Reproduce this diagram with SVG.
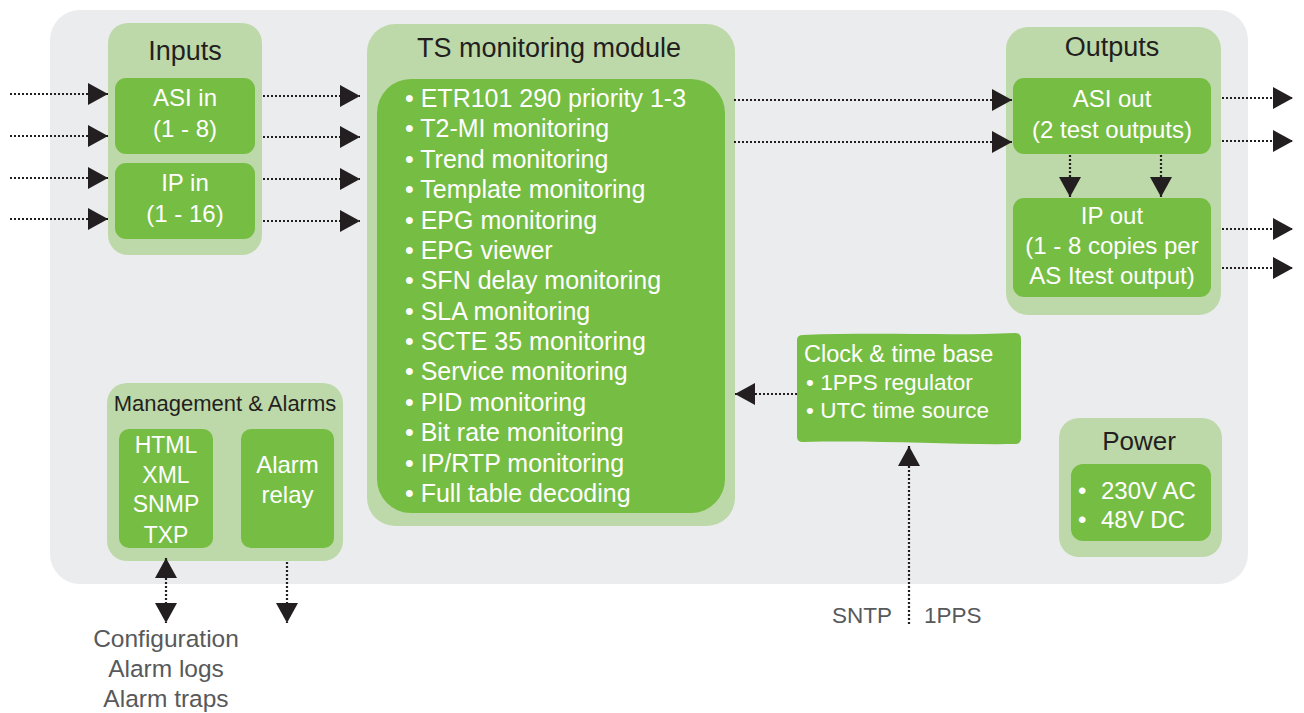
<svg xmlns="http://www.w3.org/2000/svg" width="1304" height="713" viewBox="0 0 1304 713">
<defs>
<style>
.panel{fill:#ebecee}
.grp{fill:#bed9a9}
.box{fill:#76bd43}
.title{font-family:"Liberation Sans",Arial,sans-serif;font-size:27px;fill:#231f20;text-anchor:middle}
.wt{font-family:"Liberation Sans",Arial,sans-serif;font-size:24px;fill:#ffffff;text-anchor:middle}
.item{font-family:"Liberation Sans",Arial,sans-serif;font-size:25px;fill:#ffffff}
.gt{font-family:"Liberation Sans",Arial,sans-serif;font-size:24.5px;fill:#58595b}
.conn{stroke:#231f20;stroke-width:2.2;stroke-dasharray:2 2;fill:none}
</style>
<marker id="ah" viewBox="0 0 20 22" refX="20" refY="11" markerWidth="20" markerHeight="22" markerUnits="userSpaceOnUse" orient="auto-start-reverse">
<path d="M0,0 L20,11 L0,22 Z" fill="#231f20"/>
</marker>
</defs>

<rect class="panel" x="50" y="10" width="1198" height="574" rx="30"/>

<g id="inputs">
<rect class="grp" x="108" y="23" width="154" height="232" rx="20"/>
<text class="title" x="185" y="60">Inputs</text>
<rect class="box" x="115" y="78" width="140" height="76" rx="11"/>
<text class="wt" x="185" y="106">ASI in</text>
<text class="wt" x="185" y="137">(1 - 8)</text>
<rect class="box" x="115" y="163" width="140" height="76" rx="11"/>
<text class="wt" x="185" y="191">IP in</text>
<text class="wt" x="185" y="222">(1 - 16)</text>
</g>

<g id="ts-module">
<rect class="grp" x="367" y="24" width="368" height="502" rx="28"/>
<text class="title" x="549" y="57">TS monitoring module</text>
<rect class="box" x="377" y="79" width="348" height="434" rx="34"/>
<g class="item">
<text x="405" y="107">• ETR101 290 priority 1-3</text>
<text x="405" y="137.4">• T2-MI monitoring</text>
<text x="405" y="167.8">• Trend monitoring</text>
<text x="405" y="198.1">• Template monitoring</text>
<text x="405" y="228.5">• EPG monitoring</text>
<text x="405" y="258.9">• EPG viewer</text>
<text x="405" y="289.3">• SFN delay monitoring</text>
<text x="405" y="319.7">• SLA monitoring</text>
<text x="405" y="350">• SCTE 35 monitoring</text>
<text x="405" y="380.4">• Service monitoring</text>
<text x="405" y="410.8">• PID monitoring</text>
<text x="405" y="441.2">• Bit rate monitoring</text>
<text x="405" y="471.6">• IP/RTP monitoring</text>
<text x="405" y="502">• Full table decoding</text>
</g>
</g>

<g id="outputs">
<rect class="grp" x="1006" y="27" width="215" height="288" rx="22"/>
<text class="title" x="1112" y="56">Outputs</text>
<rect class="box" x="1013" y="78" width="198" height="76" rx="11"/>
<text class="wt" x="1112" y="107">ASI out</text>
<text class="wt" x="1112" y="138">(2 test outputs)</text>
<rect class="box" x="1013" y="198" width="198" height="99" rx="11"/>
<text class="wt" x="1112" y="224">IP out</text>
<text class="wt" x="1112" y="254">(1 - 8 copies per</text>
<text class="wt" x="1112" y="284">AS Itest output)</text>
</g>

<g id="clock">
<path class="box" d="M797,340 Q797,335 803,335 C880,332 950,336 1015,333 Q1021,333 1021,339 L1021,438 Q1021,444 1015,444 C950,445 880,440 803,442 Q797,442 797,437 Z"/>
<text class="item" x="804" y="362" style="font-size:23.5px">Clock &amp; time base</text>
<text class="item" x="806" y="390" style="font-size:22.5px">• 1PPS regulator</text>
<text class="item" x="806" y="418" style="font-size:22.5px">• UTC time source</text>
</g>

<g id="management">
<rect class="grp" x="107" y="383" width="236" height="178" rx="20"/>
<text class="title" x="225" y="411" style="font-size:22px">Management &amp; Alarms</text>
<rect class="box" x="119" y="429" width="94" height="119" rx="10"/>
<text class="wt" x="166" y="453" style="font-size:23px">HTML</text>
<text class="wt" x="166" y="483" style="font-size:23px">XML</text>
<text class="wt" x="166" y="512" style="font-size:23px">SNMP</text>
<text class="wt" x="166" y="543" style="font-size:23px">TXP</text>
<rect class="box" x="241" y="429" width="93" height="119" rx="10"/>
<text class="wt" x="287.5" y="473">Alarm</text>
<text class="wt" x="287.5" y="503">relay</text>
</g>

<g id="power">
<rect class="grp" x="1059" y="418" width="163" height="139" rx="20"/>
<text class="title" x="1139" y="450" style="font-size:26px">Power</text>
<rect class="box" x="1071" y="464" width="140" height="77" rx="12"/>
<text class="item" x="1078" y="499" style="font-size:24px">•</text>
<text class="item" x="1101" y="499" style="font-size:24px">230V AC</text>
<text class="item" x="1078" y="528" style="font-size:24px">•</text>
<text class="item" x="1101" y="528" style="font-size:24px">48V DC</text>
</g>

<g id="labels">
<text class="gt" x="166" y="647" text-anchor="middle">Configuration</text>
<text class="gt" x="166" y="677" text-anchor="middle">Alarm logs</text>
<text class="gt" x="166" y="707" text-anchor="middle">Alarm traps</text>
<text class="gt" x="892" y="623" text-anchor="end" style="font-size:22.5px">SNTP</text>
<text class="gt" x="924" y="623" style="font-size:22.5px">1PPS</text>
</g>

<g id="connectors">
<line class="conn" x1="10" y1="94" x2="108" y2="94" marker-end="url(#ah)"/>
<line class="conn" x1="10" y1="136" x2="108" y2="136" marker-end="url(#ah)"/>
<line class="conn" x1="10" y1="178" x2="108" y2="178" marker-end="url(#ah)"/>
<line class="conn" x1="10" y1="219" x2="108" y2="219" marker-end="url(#ah)"/>
<line class="conn" x1="263" y1="96" x2="360" y2="96" marker-end="url(#ah)"/>
<line class="conn" x1="263" y1="137" x2="360" y2="137" marker-end="url(#ah)"/>
<line class="conn" x1="263" y1="179" x2="360" y2="179" marker-end="url(#ah)"/>
<line class="conn" x1="263" y1="221" x2="360" y2="221" marker-end="url(#ah)"/>
<line class="conn" x1="734" y1="100" x2="1012" y2="100" marker-end="url(#ah)"/>
<line class="conn" x1="734" y1="142" x2="1012" y2="142" marker-end="url(#ah)"/>
<line class="conn" x1="1222" y1="98" x2="1293" y2="98" marker-end="url(#ah)"/>
<line class="conn" x1="1222" y1="141" x2="1293" y2="141" marker-end="url(#ah)"/>
<line class="conn" x1="1222" y1="229" x2="1293" y2="229" marker-end="url(#ah)"/>
<line class="conn" x1="1222" y1="268" x2="1293" y2="268" marker-end="url(#ah)"/>
<line class="conn" x1="1070" y1="155" x2="1070" y2="197" marker-end="url(#ah)"/>
<line class="conn" x1="1161" y1="155" x2="1161" y2="197" marker-end="url(#ah)"/>
<line class="conn" x1="797" y1="394" x2="735" y2="394" marker-end="url(#ah)"/>
<line class="conn" x1="909" y1="624" x2="909" y2="446" marker-end="url(#ah)"/>
<line class="conn" x1="166" y1="558" x2="166" y2="623" marker-start="url(#ah)" marker-end="url(#ah)"/>
<line class="conn" x1="287" y1="562" x2="287" y2="623" marker-end="url(#ah)"/>
</g>
</svg>
